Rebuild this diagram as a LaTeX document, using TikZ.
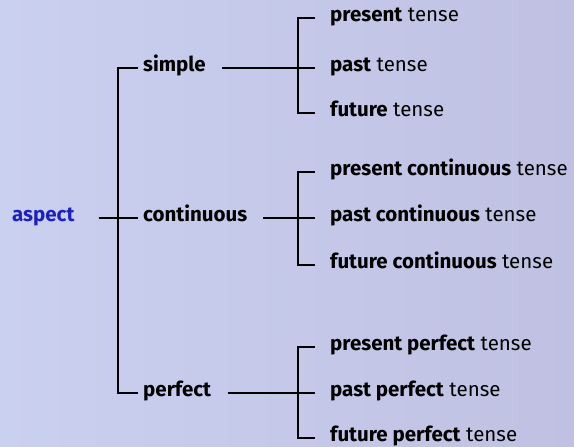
\documentclass[tikz,border=0pt]{standalone}
\usepackage{fontspec}
\setmainfont{Fira Sans}
\usetikzlibrary{calc}

\definecolor{paperleft}{RGB}{202,208,240}
\definecolor{paperright}{RGB}{192,193,226}
\definecolor{aspectblue}{RGB}{28,32,190}

\tikzset{
  term/.style={anchor=base west, inner sep=0pt, font=\fontsize{20.5}{20.5}\selectfont},
  rootterm/.style={term, text=aspectblue, font=\fontsize{20.5}{20.5}\selectfont\bfseries},
  branch/.style={line width=1.5pt}
}

\begin{document}
\begin{tikzpicture}[x=1pt,y=1pt]
    % Paper
    \shade[left color=paperleft, right color=paperright] (0,0) rectangle (574,447);
    \useasboundingbox (0,0) rectangle (574,447);

    % Root
    \node[rootterm] (aspect) at (12,225) {aspect};

    % Aspects
    \node[term] (simple) at (143,375) {\textbf{simple}};
    \node[term] (continuous) at (143,225) {\textbf{continuous}};
    \node[term] (perfect) at (143,50) {\textbf{perfect}};

    \draw[branch] ($(simple.base west)+(-5,4)$) -| ($(perfect.base west)+(-25,4)$) -- ($(perfect.base west)+(-5,4)$);
    \draw[branch] ($(aspect.base east)+(24,4)$) -- ($(continuous.base west)+(-5,4)$);

    % Simple tenses
    \node[term] (present) at (330,425) {\textbf{present} tense};
    \node[term] (past) at (330,375) {\textbf{past} tense};
    \node[term] (future) at (330,330) {\textbf{future} tense};

    \draw[branch] ($(present.base west)+(-15,4)$) -| ($(future.base west)+(-32,4)$) -- ($(future.base west)+(-15,4)$);
    \draw[branch] ($(simple.base east)+(16,4)$) -- ($(past.base west)+(-15,4)$);

    % Continuous tenses
    \node[term] (prescont) at (330,271) {\textbf{present continuous} tense};
    \node[term] (pastcont) at (330,225) {\textbf{past continuous} tense};
    \node[term] (futcont) at (330,178) {\textbf{future continuous} tense};

    \draw[branch] ($(prescont.base west)+(-15,4)$) -| ($(futcont.base west)+(-32,4)$) -- ($(futcont.base west)+(-15,4)$);
    \draw[branch] ($(continuous.base east)+(16,4)$) -- ($(pastcont.base west)+(-15,4)$);

    % Perfect tenses
    \node[term] (presperf) at (330,96) {\textbf{present perfect} tense};
    \node[term] (pastperf) at (330,50) {\textbf{past perfect} tense};
    \node[term] (futperf) at (330,5) {\textbf{future perfect} tense};

    \draw[branch] ($(presperf.base west)+(-15,4)$) -| ($(futperf.base west)+(-32,4)$) -- ($(futperf.base west)+(-15,4)$);
    \draw[branch] ($(perfect.base east)+(16,4)$) -- ($(pastperf.base west)+(-15,4)$);
\end{tikzpicture}
\end{document}
